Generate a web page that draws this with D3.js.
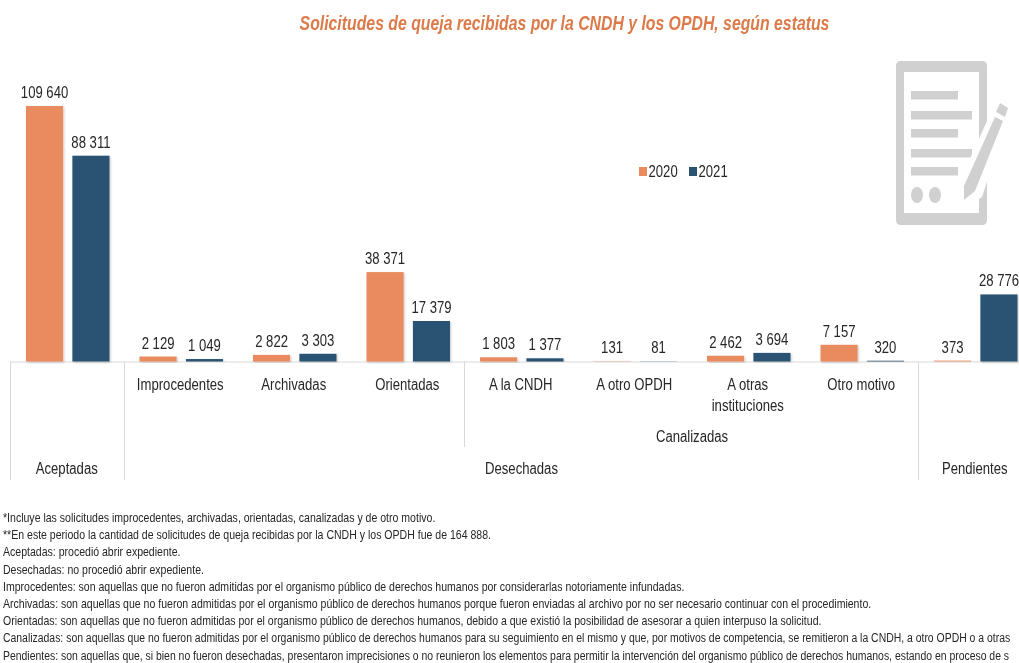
<!DOCTYPE html>
<html>
<head>
<meta charset="utf-8">
<script src="https://cdn.jsdelivr.net/npm/d3@7"></script>
<style>
    html, body { margin: 0; padding: 0; background: #fff; overflow: hidden; }
    svg { display: block; font-family: "Liberation Sans", Arial, sans-serif; filter: blur(0.4px); }
</style>
</head>
<body>
<div id="chart"></div>
<script>
const categories = ['Aceptadas', 'Improcedentes', 'Archivadas', 'Orientadas', 'A la CNDH', 'A otro OPDH', 'A otras instituciones', 'Otro motivo', 'Pendientes'];
const years = ['2020', '2021'];
const values2020 = [109640, 2129, 2822, 38371, 1803, 131, 2462, 7157, 373];
const values2021 = [88311, 1049, 3303, 17379, 1377, 81, 3694, 320, 28776];
const yearColors = ['#e98b5f', '#2a5273'];
const title = 'Solicitudes de queja recibidas por la CNDH y los OPDH, según estatus';
const footnotes = [
    '*Incluye las solicitudes improcedentes, archivadas, orientadas, canalizadas y de otro motivo.',
    '**En este periodo la cantidad de solicitudes de queja recibidas por la CNDH y los OPDH fue de 164 888.',
    'Aceptadas: procedió abrir expediente.',
    'Desechadas: no procedió abrir expediente.',
    'Improcedentes: son aquellas que no fueron admitidas por el organismo público de derechos humanos por considerarlas notoriamente infundadas.',
    'Archivadas: son aquellas que no fueron admitidas por el organismo público de derechos humanos porque fueron enviadas al archivo por no ser necesario continuar con el procedimiento.',
    'Orientadas: son aquellas que no fueron admitidas por el organismo público de derechos humanos, debido a que existió la posibilidad de asesorar a quien interpuso la solicitud.',
    'Canalizadas: son aquellas que no fueron admitidas por el organismo público de derechos humanos para su seguimiento en el mismo y que, por motivos de competencia, se remitieron a la CNDH, a otro OPDH o a otras',
    'Pendientes: son aquellas que, si bien no fueron desechadas, presentaron imprecisiones o no reunieron los elementos para permitir la intervención del organismo público de derechos humanos, estando en proceso de s'
];

const width = 1019;
const height = 663;
const baseline = 361.5;
const textColor = '#262626';
const lineColor = '#d9d9d9';
const iconColor = '#d0d0d0';

const svg = d3.select('#chart').append('svg')
    .attr('width', width)
    .attr('height', height);

const defs = svg.append('defs');
const shadow = defs.append('filter').attr('id', 'barShadow')
    .attr('x', '-10%').attr('y', '-10%').attr('width', '125%').attr('height', '125%');
shadow.append('feDropShadow')
    .attr('dx', 1).attr('dy', 1).attr('stdDeviation', 0.8)
    .attr('flood-color', '#000').attr('flood-opacity', 0.22);

const x = d3.scaleBand().domain(categories).range([10, 1031.5]);
const inner = d3.scaleBand().domain(years).range([16, 99.5]).paddingInner(0.2);
const y = d3.scaleLinear().domain([0, 109640]).range([baseline, 106]);

// condensed look of the original font: squeeze text horizontally
function label(sel, px, py, str, size, sx, anchor, color) {
    return sel.append('text')
        .attr('transform', `translate(${px},${py}) scale(${sx},1)`)
        .attr('text-anchor', anchor || 'middle')
        .attr('font-size', size)
        .attr('fill', color || textColor)
        .text(str);
}

// Title
svg.append('text')
    .attr('transform', 'translate(564.5,30) scale(0.811,1)')
    .attr('text-anchor', 'middle')
    .attr('font-size', 19.5)
    .attr('font-weight', 'bold')
    .attr('font-style', 'italic')
    .attr('fill', '#dc7a49')
    .text(title);

// Icon
const icon = svg.append('g').attr('class', 'icon');
icon.append('path')
    .attr('d', 'M901,61H982Q987,61 987,66V220Q987,225 982,225H901Q896,225 896,220V66Q896,61 901,61Z M904,72V213H979V72Z')
    .attr('fill-rule', 'evenodd')
    .attr('fill', iconColor);
[[91, 47], [111, 61], [129, 47], [149, 61], [167, 47]].forEach(d => {
    icon.append('rect').attr('x', 911).attr('y', d[0]).attr('width', d[1]).attr('height', 8.5).attr('fill', iconColor);
});
[917, 935].forEach(d => {
    icon.append('ellipse').attr('cx', d).attr('cy', 195).attr('rx', 6).attr('ry', 8).attr('fill', iconColor);
});
icon.append('polygon').attr('points', '958,200 958,185 992,110 1008,117 982,197 966,208').attr('fill', '#fff');
icon.append('polygon').attr('points', '964,186 995,117 1003,121 975,191 964,200').attr('fill', iconColor);
icon.append('polygon').attr('points', '1000,103 1008,108 1005,117 996,112').attr('fill', iconColor);

// Axis line and group separators
svg.append('line')
    .attr('x1', 10).attr('x2', width)
    .attr('y1', baseline + 0.5).attr('y2', baseline + 0.5)
    .attr('stroke', lineColor);
[[0, 480], [1, 480], [4, 447], [8, 480]].forEach(d => {
    const sx = Math.round(x(categories[d[0]])) + 0.5;
    svg.append('line')
        .attr('x1', sx).attr('x2', sx)
        .attr('y1', baseline).attr('y2', d[1])
        .attr('stroke', lineColor);
});

// Bars and value labels
const fmt = v => String(v).replace(/\B(?=(\d{3})+(?!\d))/g, ' ');
[values2020, values2021].forEach((vals, s) => {
    const g = svg.append('g').attr('class', 'series-' + years[s]);
    g.selectAll('rect')
        .data(vals)
        .enter().append('rect')
        .attr('x', (d, i) => x(categories[i]) + inner(years[s]))
        .attr('y', d => y(d))
        .attr('width', inner.bandwidth())
        .attr('height', d => baseline - y(d))
        .attr('fill', yearColors[s])
        .attr('filter', 'url(#barShadow)');
    vals.forEach((d, i) => {
        const cx = x(categories[i]) + inner(years[s]) + inner.bandwidth() / 2;
        label(svg, cx, y(d) - 8, fmt(d), 16, 0.82);
    });
});

// Category labels
categories.forEach(c => {
    const cx = x(c) + x.bandwidth() / 2;
    if (c === 'Aceptadas' || c === 'Pendientes') {
        label(svg, cx, 474, c, 16, 0.82);
    } else if (c === 'A otras instituciones') {
        label(svg, cx, 390, 'A otras', 16, 0.82);
        label(svg, cx, 411, 'instituciones', 16, 0.82);
    } else {
        label(svg, cx, 390, c, 16, 0.82);
    }
});
label(svg, 692, 442, 'Canalizadas', 16, 0.82);
label(svg, 521.5, 474, 'Desechadas', 16, 0.82);

// Legend
years.forEach((yr, i) => {
    const lx = 639 + i * 50;
    svg.append('rect').attr('x', lx).attr('y', 167).attr('width', 8).attr('height', 9).attr('fill', yearColors[i]);
    label(svg, lx + 9.5, 177, yr, 16, 0.82, 'start');
});

// Footnotes, the two long last lines a bit tighter so they stay inside the page
footnotes.forEach((t, i) => {
    label(svg, 3, 522 + i * 17.2, t, 12.2, i >= 7 ? 0.855 : 0.865, 'start');
});
</script>
</body>
</html>
